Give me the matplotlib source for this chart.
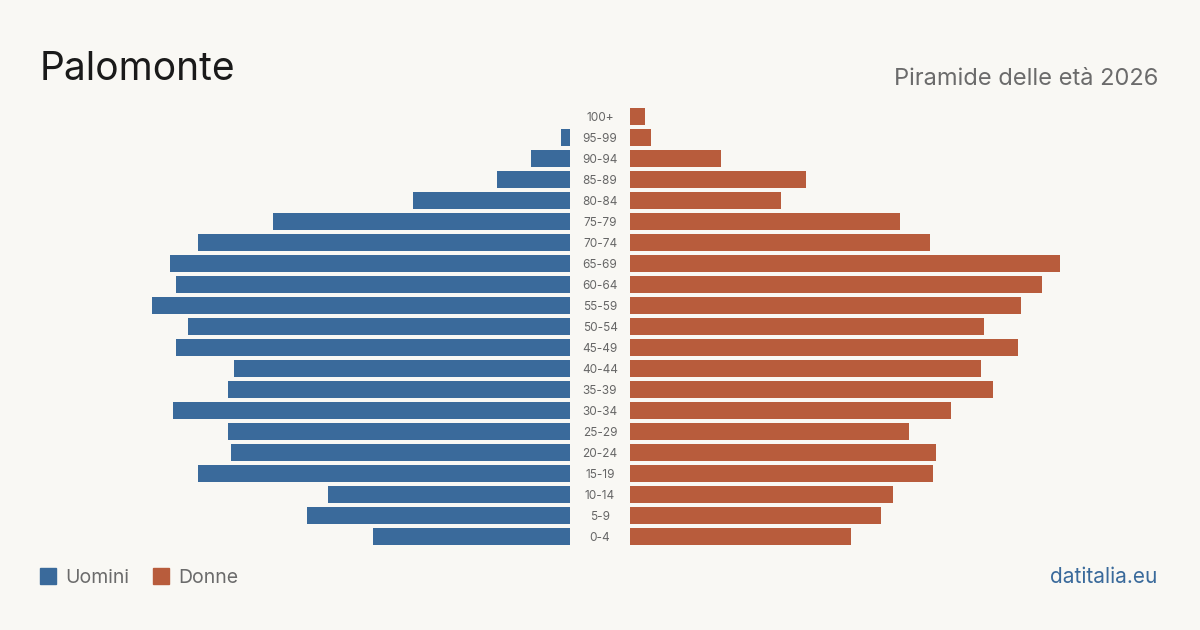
import matplotlib.pyplot as plt
import numpy as np

plt.rcParams['font.family'] = ['Inter', 'DejaVu Sans']

# classi di età, dal basso verso l'alto
eta = ["0-4", "5-9", "10-14", "15-19", "20-24", "25-29", "30-34", "35-39",
       "40-44", "45-49", "50-54", "55-59", "60-64", "65-69", "70-74",
       "75-79", "80-84", "85-89", "90-94", "95-99", "100+"]
uomini = [197, 263, 242, 372, 339, 342, 397, 342, 336, 394, 382, 418,
          394, 400, 372, 297, 157, 73, 39, 9, 0]
donne = [221, 251, 263, 303, 306, 279, 321, 363, 351, 388, 354, 391,
         412, 430, 300, 270, 151, 176, 91, 21, 15]

blu = "#3a6a9b"
rosso = "#b85c3c"
sfondo = "#f9f8f4"

W, H = 1200, 630
fig = plt.figure(figsize=(12, 6.3), dpi=100, facecolor=sfondo)

top, bottom = 106, 547
ax_l = fig.add_axes([0, 1 - bottom / H, 570 / W, (bottom - top) / H])
ax_r = fig.add_axes([630 / W, 1 - bottom / H, 570 / W, (bottom - top) / H])

y = np.arange(len(eta))
ax_l.barh(y, uomini, height=0.81, color=blu)
ax_r.barh(y, donne, height=0.81, color=rosso)
ax_l.set_xlim(570, 0)
ax_r.set_xlim(0, 570)
for ax in (ax_l, ax_r):
    ax.set_ylim(-0.5, len(eta) - 0.5)
    ax.axis("off")

for i, lab in enumerate(eta):
    ax_r.text(-30, i, lab, ha="center", va="center_baseline", fontsize=8.5,
              color="#666666", clip_on=False)

fig.text(40 / W, 1 - 80 / H, "Palomonte", fontsize=28, color="#1a1a1a",
         ha="left", va="baseline")
fig.text(1158 / W, 1 - 85 / H, "Piramide delle età 2026", fontsize=17,
         color="#6b6b6b", ha="right", va="baseline")

# legenda
for x0, col, lab in [(40, blu, "Uomini"), (153, rosso, "Donne")]:
    fig.patches.append(plt.Rectangle((x0 / W, 1 - 584 / H), 16 / W, 16 / H,
                                     transform=fig.transFigure, color=col))
    fig.text((x0 + 25) / W, 1 - 583 / H, lab, fontsize=14, color="#6b6b6b",
             ha="left", va="baseline")

fig.text(1157 / W, 1 - 583 / H, "datitalia.eu", fontsize=15, color=blu,
         ha="right", va="baseline")

fig.savefig("out.png", dpi=100, facecolor=sfondo)
